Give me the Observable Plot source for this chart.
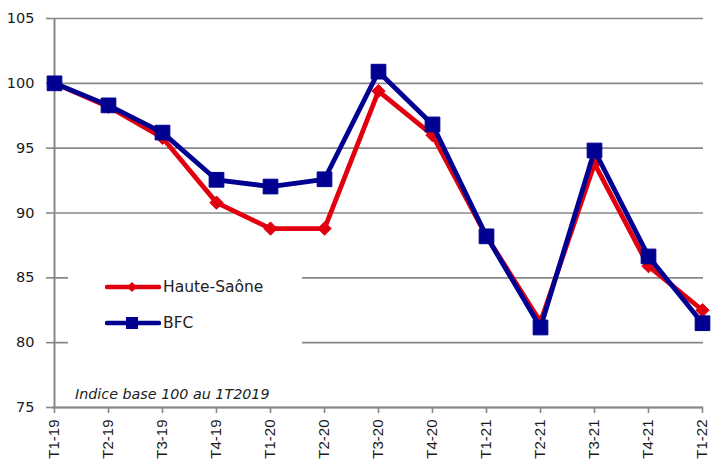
<!DOCTYPE html>
<html>
<head>
<meta charset="utf-8">
<script src="https://cdn.jsdelivr.net/npm/d3@7"></script>
<script src="https://cdn.jsdelivr.net/npm/@observablehq/plot@0.6"></script>
<style>
  html, body { margin: 0; padding: 0; background: #fff; }
  #wrap { position: relative; width: 713px; height: 459px; }
  #legend { position: absolute; left: 68px; top: 262px; width: 234px; height: 86px; background: #fff;
            font-family: "DejaVu Sans", sans-serif; font-size: 15.5px; color: #222; }
  .item { position: absolute; left: 37px; display: flex; align-items: center; }
  .item span { margin-left: 2px; }
  #note { position: absolute; left: 75px; top: 386px; font-family: "DejaVu Sans", sans-serif;
          font-style: italic; font-size: 14.3px; color: #222; }
</style>
</head>
<body>
<div id="wrap"></div>
<script>
const quarters = ["T1-19","T2-19","T3-19","T4-19","T1-20","T2-20","T3-20","T4-20","T1-21","T2-21","T3-21","T4-21","T1-22"];
const hauteSaone = [100, 98.2, 95.8, 90.8, 88.8, 88.8, 99.4, 96.0, 88.2, 81.6, 93.8, 85.9, 82.5];
const bfc = [100, 98.3, 96.2, 92.56, 92.04, 92.6, 100.9, 96.83, 88.2, 81.17, 94.82, 86.65, 81.5];
const yTicks = [75, 80, 85, 90, 95, 100, 105];
const seriesNames = ["Haute-Saône", "BFC"];
const colors = ["#E1000F", "#000091"];

const hs = quarters.map((q, i) => ({q, v: hauteSaone[i]}));
const bf = quarters.map((q, i) => ({q, v: bfc[i]}));

const chart = Plot.plot({
  width: 713, height: 459,
  marginLeft: 52, marginRight: 10, marginTop: 18, marginBottom: 52,
  style: {background: "#fff"},
  x: {type: "point", domain: quarters, padding: 0, label: null},
  y: {domain: [75, 105], ticks: yTicks, label: null},
  marks: [
    Plot.gridY(yTicks, {stroke: "#888", strokeOpacity: 1, strokeWidth: 1.6}),
    Plot.axisY(yTicks, {tickSize: 6, tickPadding: 12, stroke: "#888", strokeWidth: 1.6, fill: "#1a1a1a",
      fontSize: 14.5, fontFamily: "DejaVu Sans, sans-serif", label: null}),
    Plot.ruleX([quarters[0]], {stroke: "#888", strokeWidth: 2}),
    Plot.ruleY([75], {stroke: "#888", strokeWidth: 2}),
    Plot.axisX({tickSize: 6, tickPadding: 6, tickRotate: -90, stroke: "#888", strokeWidth: 1.6, fill: "#1a1a1a",
      fontSize: 15, fontFamily: "Liberation Sans, Arial, sans-serif", label: null}),
    Plot.line(hs, {x: "q", y: "v", stroke: colors[0], strokeWidth: 4.8}),
    Plot.dot(hs, {x: "q", y: "v", symbol: "diamond2", r: 6, fill: colors[0], stroke: colors[0], strokeWidth: 1}),
    Plot.line(bf, {x: "q", y: "v", stroke: colors[1], strokeWidth: 4.8}),
    Plot.dot(bf, {x: "q", y: "v", symbol: "square", r: 8.3, fill: colors[1], stroke: colors[1], strokeWidth: 1})
  ]
});

const wrap = document.getElementById("wrap");
wrap.appendChild(chart);

const legend = document.createElement("div");
legend.id = "legend";
const shapes = [
  c => `<path d="M27 0 L32 5 L27 10 L22 5 Z" fill="${c}"/>`,
  c => `<rect x="21" y="-1" width="12" height="12" fill="${c}"/>`
];
seriesNames.forEach((name, i) => {
  const d = document.createElement("div");
  d.className = "item";
  d.style.top = (i === 0 ? 16 : 52) + "px";
  d.innerHTML = `<svg width="56" height="12" viewBox="0 -1 56 12"><line x1="2" y1="5" x2="54" y2="5" stroke="${colors[i]}" stroke-width="4.5" stroke-linecap="round"/>${shapes[i](colors[i])}</svg><span>${name}</span>`;
  legend.appendChild(d);
});
wrap.appendChild(legend);

const note = document.createElement("div");
note.id = "note";
note.textContent = "Indice base 100 au 1T2019";
wrap.appendChild(note);
</script>
</body>
</html>
